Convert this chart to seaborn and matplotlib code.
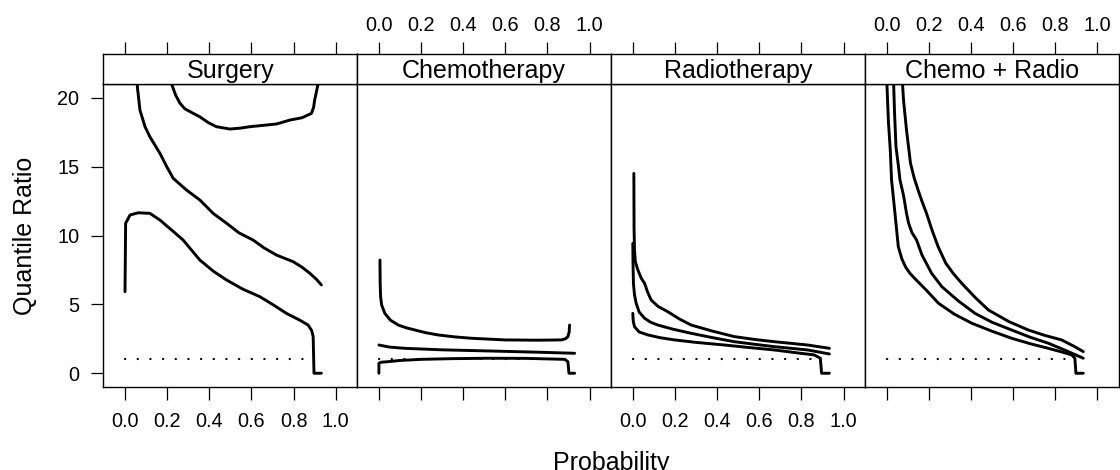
import matplotlib
matplotlib.use("Agg")
import matplotlib.pyplot as plt
import seaborn as sns

# ---------------- data ----------------
panels = ["Surgery", "Chemotherapy", "Radiotherapy", "Chemo + Radio"]

x_ticks = [0.0, 0.2, 0.4, 0.6, 0.8, 1.0]
x_tick_labels = ["0.0", "0.2", "0.4", "0.6", "0.8", "1.0"]
y_ticks = [0, 5, 10, 15, 20]
y_tick_labels = ["0", "5", "10", "15", "20"]

ref_x = [0.0, 0.85]
ref_y = [1.0, 1.0]

# Surgery
surg_lo_x = [0.0, 0.003, 0.024, 0.063, 0.118, 0.166, 0.221, 0.276, 0.355, 0.42, 0.482, 0.56, 0.64,
             0.70, 0.766, 0.83, 0.869, 0.886, 0.893, 0.897, 0.932]
surg_lo_y = [5.92, 10.89, 11.49, 11.65, 11.61, 11.12, 10.4, 9.67, 8.22, 7.4, 6.77, 6.1, 5.56,
             5.0, 4.35, 3.85, 3.5, 3.1, 2.66, 0.0, 0.0]
surg_mid_x = [0.052, 0.06, 0.071, 0.095, 0.118, 0.166, 0.198, 0.229, 0.292, 0.355, 0.419, 0.482,
              0.54, 0.608, 0.66, 0.719, 0.798, 0.84, 0.877, 0.91, 0.932]
surg_mid_y = [22.0, 20.6, 19.1, 17.9, 17.17, 15.96, 15.0, 14.15, 13.3, 12.58, 11.6, 10.89,
              10.2, 9.67, 9.1, 8.58, 8.1, 7.7, 7.26, 6.8, 6.41]
surg_hi_x = [0.218, 0.221, 0.24, 0.261, 0.284, 0.32, 0.355, 0.395, 0.434, 0.498, 0.55, 0.592,
             0.671, 0.72, 0.782, 0.84, 0.885, 0.895, 0.9, 0.908, 0.916, 0.918]
surg_hi_y = [21.5, 21.0, 20.2, 19.6, 19.2, 18.9, 18.62, 18.2, 17.9, 17.73, 17.8, 17.9,
             18.02, 18.1, 18.38, 18.55, 18.87, 19.3, 19.83, 20.4, 21.0, 22.0]

# Chemotherapy
chemo_lo_x = [0.0, 0.0, 0.01, 0.044, 0.1, 0.202, 0.35, 0.518, 0.7, 0.882, 0.897, 0.902, 0.929]
chemo_lo_y = [0.0, 0.73, 0.8, 0.84, 0.93, 1.01, 1.06, 1.09, 1.08, 1.01, 0.84, 0.0, 0.0]
chemo_mid_x = [0.0, 0.05, 0.123, 0.3, 0.518, 0.75, 0.929]
chemo_mid_y = [2.05, 1.9, 1.81, 1.7, 1.62, 1.53, 1.45]
chemo_hi_x = [0.005, 0.006, 0.008, 0.013, 0.028, 0.055, 0.092, 0.13, 0.171, 0.22, 0.281, 0.36,
              0.439, 0.597, 0.75, 0.866, 0.885, 0.897, 0.903, 0.905]
chemo_hi_y = [8.22, 6.5, 5.56, 4.96, 4.35, 3.85, 3.5, 3.3, 3.14, 2.95, 2.78, 2.64,
              2.54, 2.42, 2.4, 2.42, 2.5, 2.66, 3.0, 3.5]

# Radiotherapy
radio_lo_x = [0.0, 0.002, 0.008, 0.03, 0.072, 0.13, 0.198, 0.3, 0.435, 0.55, 0.672, 0.77, 0.861,
              0.89, 0.896, 0.933]
radio_lo_y = [4.35, 3.8, 3.38, 3.0, 2.78, 2.58, 2.42, 2.24, 2.05, 1.87, 1.69, 1.5, 1.33,
              1.09, 0.0, 0.0]
radio_mid_x = [0.0, 0.001, 0.003, 0.008, 0.016, 0.03, 0.056, 0.085, 0.119, 0.19, 0.277, 0.38,
               0.482, 0.58, 0.672, 0.83, 0.933]
radio_mid_y = [9.43, 8.0, 6.53, 5.7, 5.08, 4.45, 3.99, 3.7, 3.5, 3.2, 2.9, 2.58,
               2.29, 2.1, 1.93, 1.69, 1.4]
radio_hi_x = [0.005, 0.006, 0.008, 0.012, 0.024, 0.04, 0.056, 0.07, 0.087, 0.12, 0.166, 0.22,
              0.277, 0.38, 0.482, 0.58, 0.672, 0.83, 0.933]
radio_hi_y = [14.51, 10.5, 8.95, 8.1, 7.5, 6.9, 6.53, 5.9, 5.32, 4.85, 4.47, 3.95,
              3.5, 3.05, 2.66, 2.45, 2.29, 2.05, 1.81]

# Chemo + Radio
cr_lo_x = [0.0, 0.001, 0.008, 0.017, 0.023, 0.032, 0.04, 0.055, 0.072, 0.09, 0.11, 0.135, 0.19,
           0.246, 0.32, 0.404, 0.5, 0.593, 0.68, 0.767, 0.83, 0.878, 0.893, 0.898, 0.933]
cr_lo_y = [22.0, 21.0, 18.3, 16.2, 14.03, 12.7, 11.5, 9.19, 8.3, 7.7, 7.26, 6.85, 6.0,
           5.08, 4.3, 3.63, 3.05, 2.54, 2.15, 1.81, 1.55, 1.33, 1.09, 0.0, 0.0]
cr_mid_x = [0.031, 0.037, 0.044, 0.056, 0.063, 0.08, 0.094, 0.104, 0.12, 0.142, 0.167, 0.213,
            0.262, 0.34, 0.419, 0.5, 0.593, 0.68, 0.767, 0.85, 0.933]
cr_mid_y = [22.0, 19.0, 16.44, 15.0, 14.03, 12.9, 11.61, 10.89, 10.2, 9.67, 8.6, 7.26,
            6.28, 5.25, 4.35, 3.7, 3.14, 2.62, 2.18, 1.65, 1.09]
cr_hi_x = [0.071, 0.08, 0.094, 0.113, 0.13, 0.149, 0.167, 0.189, 0.215, 0.244, 0.28, 0.315,
           0.356, 0.42, 0.483, 0.58, 0.672, 0.75, 0.83, 0.89, 0.933]
cr_hi_y = [22.0, 19.8, 17.66, 15.24, 14.2, 13.3, 12.5, 11.61, 10.4, 9.19, 8.0, 7.26,
           6.53, 5.5, 4.59, 3.75, 3.14, 2.75, 2.42, 1.95, 1.57]

curves = {
    "Surgery": [(surg_lo_x, surg_lo_y), (surg_mid_x, surg_mid_y), (surg_hi_x, surg_hi_y)],
    "Chemotherapy": [(chemo_lo_x, chemo_lo_y), (chemo_mid_x, chemo_mid_y), (chemo_hi_x, chemo_hi_y)],
    "Radiotherapy": [(radio_lo_x, radio_lo_y), (radio_mid_x, radio_mid_y), (radio_hi_x, radio_hi_y)],
    "Chemo + Radio": [(cr_lo_x, cr_lo_y), (cr_mid_x, cr_mid_y), (cr_hi_x, cr_hi_y)],
}

# ---------------- styling ----------------
sns.set_theme(style="white")
plt.rcParams['font.family'] = ['Liberation Sans', 'DejaVu Sans']
plt.rcParams['axes.edgecolor'] = 'black'
plt.rcParams['axes.linewidth'] = 1.0
plt.rcParams['xtick.color'] = 'black'
plt.rcParams['ytick.color'] = 'black'

W, H = 1120, 470
fig = plt.figure(figsize=(W / 100, H / 100), dpi=100)
fig.patch.set_facecolor('white')

left0 = 103.3
pw = 253.9
p_top = 84.0
p_bot = 387.3
s_top = 54.0

XLIM = (-0.103, 1.102)
YLIM = (-1.02, 21.0)
TICK_FS = 14.3
MAIN_FS = 18.0

for i, name in enumerate(panels):
    l = left0 + i * pw
    ax = fig.add_axes([l / W, (H - p_bot) / H, pw / W, (p_bot - p_top) / H])
    for cx, cy in curves[name]:
        sns.lineplot(x=cx, y=cy, ax=ax, color='black', lw=2.1, sort=False,
                     estimator=None, solid_capstyle='round', solid_joinstyle='round')
    sns.lineplot(x=ref_x, y=ref_y, ax=ax, color='black', lw=1.6, sort=False,
                 estimator=None, linestyle=(0, (0.1, 5.6)), dash_capstyle='round')
    ax.set_xlim(*XLIM)
    ax.set_ylim(*YLIM)
    ax.set_xticks(x_ticks)
    ax.set_xticklabels(x_tick_labels)
    ax.tick_params(axis='x', direction='out', length=9, width=0.9, labelsize=TICK_FS,
                   pad=9.0, bottom=True, top=False, labelbottom=(i in (0, 2)))
    if i == 0:
        ax.set_yticks(y_ticks)
        ax.set_yticklabels(y_tick_labels)
        ax.tick_params(axis='y', direction='out', length=8.4, width=0.9,
                       labelsize=TICK_FS, pad=9.0, left=True, labelleft=True)
    else:
        ax.set_yticks([])
    ax.set_xlabel("")
    ax.set_ylabel("")
    for sp in ax.spines.values():
        sp.set_color('black')
        sp.set_linewidth(1.0)

    # strip
    sax = fig.add_axes([l / W, (H - p_top) / H, pw / W, (p_top - s_top) / H])
    sax.set_xlim(*XLIM)
    sax.set_ylim(0, 1)
    sax.set_facecolor('white')
    sax.set_xticks(x_ticks)
    sax.set_xticklabels(x_tick_labels)
    sax.tick_params(axis='x', direction='out', length=9, width=0.9, labelsize=TICK_FS,
                    pad=4.8, bottom=False, top=True, labelbottom=False,
                    labeltop=(i in (1, 3)))
    sax.set_yticks([])
    for sp in sax.spines.values():
        sp.set_color('black')
        sp.set_linewidth(1.0)
    sax.text(0.5, 0.21, name, transform=sax.transAxes, ha='center', va='baseline',
             fontsize=MAIN_FS, color='black')

fig.text(25 / W, (H - 236) / H, "Quantile Ratio", rotation=90, ha='center',
         va='center', fontsize=MAIN_FS, color='black')
fig.text(611 / W, (H - 451) / H, "Probability", ha='center', va='top',
         fontsize=MAIN_FS, color='black')

fig.savefig("out.png", dpi=100, facecolor='white')
